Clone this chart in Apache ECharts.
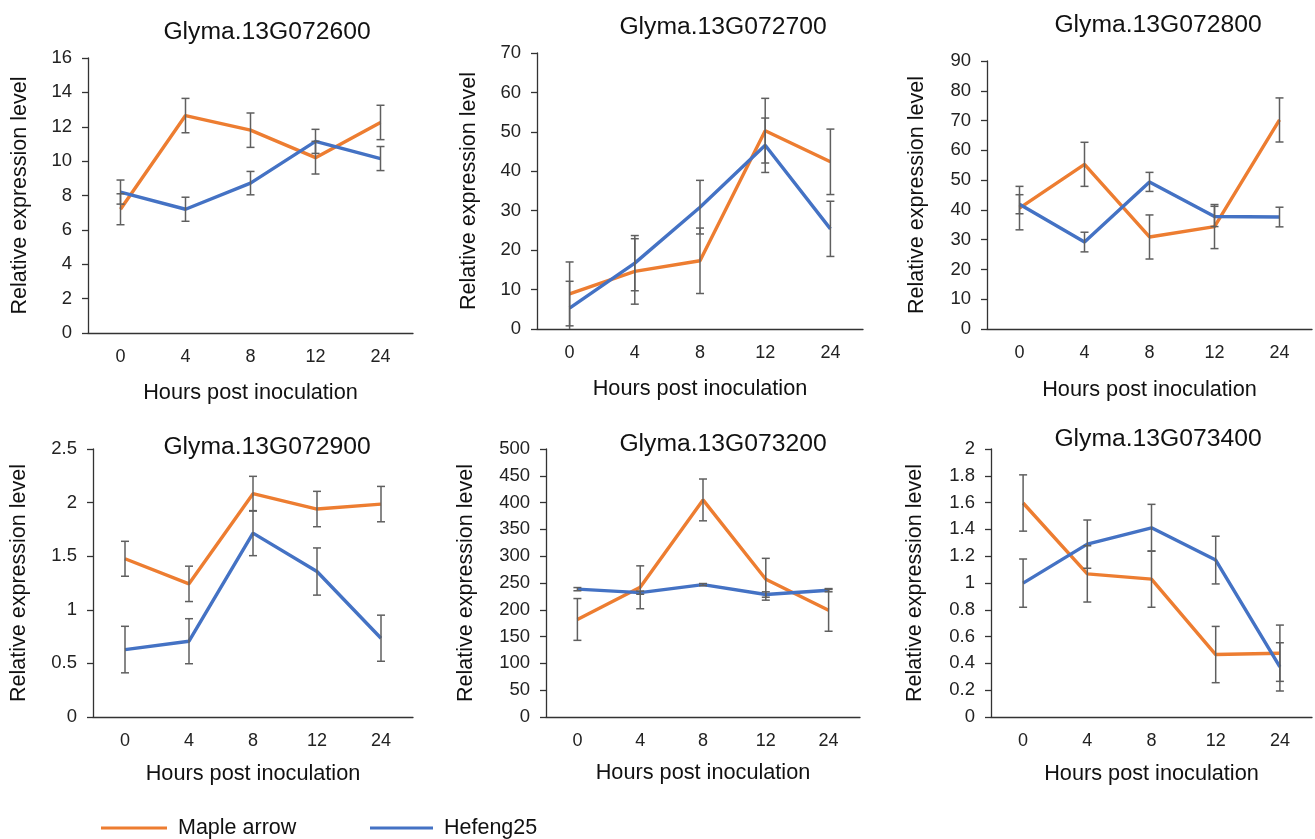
<!DOCTYPE html>
<html>
<head>
<meta charset="utf-8">
<script src="https://cdn.jsdelivr.net/npm/echarts@6/dist/echarts.min.js"></script>
<style>html,body{margin:0;padding:0;background:#fff}#c{width:1315px;height:839px}</style>
</head>
<body>
<div id="c"></div>
<script>
const categories = ['0', '4', '8', '12', '24'];
const titles = ['Glyma.13G072600', 'Glyma.13G072700', 'Glyma.13G072800', 'Glyma.13G072900', 'Glyma.13G073200', 'Glyma.13G073400'];
const yMax = [16, 70, 90, 2.5, 500, 2];
const yStep = [2, 10, 10, 0.5, 50, 0.2];

const maple1 = [7.2, 12.65, 11.8, 10.2, 12.25];
const mapleErr1 = [0.9, 1.0, 1.0, 0.95, 1.0];
const hefeng1 = [8.2, 7.2, 8.72, 11.15, 10.15];
const hefengErr1 = [0.7, 0.7, 0.68, 0.7, 0.7];

const maple2 = [8.9, 14.6, 17.3, 50.3, 42.4];
const mapleErr2 = [8.1, 8.3, 8.3, 8.2, 8.3];
const hefeng2 = [5.3, 16.7, 30.9, 46.6, 25.4];
const hefengErr2 = [6.8, 7.0, 6.8, 6.9, 7.0];

const maple3 = [40.6, 55.3, 30.9, 34.4, 70.2];
const mapleErr3 = [7.3, 7.4, 7.4, 7.4, 7.4];
const hefeng3 = [41.9, 29.2, 49.4, 37.8, 37.6];
const hefengErr3 = [3.2, 3.3, 3.2, 3.4, 3.3];

const maple4 = [1.476, 1.242, 2.083, 1.94, 1.986];
const mapleErr4 = [0.163, 0.165, 0.162, 0.165, 0.165];
const hefeng4 = [0.629, 0.707, 1.715, 1.357, 0.735];
const hefengErr4 = [0.217, 0.21, 0.21, 0.22, 0.215];

const maple5 = [182, 242, 405, 257, 199];
const mapleErr5 = [39, 40, 39, 39, 39];
const hefeng5 = [238.5, 232, 247, 228.5, 236.6];
const hefengErr5 = [3, 3, 2, 5, 3];

const maple6 = [1.597, 1.068, 1.029, 0.466, 0.476];
const mapleErr6 = [0.21, 0.21, 0.21, 0.21, 0.21];
const hefeng6 = [0.999, 1.29, 1.412, 1.171, 0.374];
const hefengErr6 = [0.18, 0.18, 0.175, 0.178, 0.18];

const mapleAll = [maple1, maple2, maple3, maple4, maple5, maple6];
const mapleErrAll = [mapleErr1, mapleErr2, mapleErr3, mapleErr4, mapleErr5, mapleErr6];
const hefengAll = [hefeng1, hefeng2, hefeng3, hefeng4, hefeng5, hefeng6];
const hefengErrAll = [hefengErr1, hefengErr2, hefengErr3, hefengErr4, hefengErr5, hefengErr6];

const FONT = '"Liberation Sans", Arial, Helvetica, sans-serif';
const ORANGE = '#ED7D31';
const BLUE = '#4472C4';
const ERRC = '#5f5f5f';

// layout: [left, top, width, height, titleCenterX, titleTop, yNameGap, xNameGap]
const layout = [
  [88, 58, 325, 275, 262, 15, 57, 49],
  [537, 53, 326, 276, 718, 10, 57, 49],
  [987, 61, 325, 268, 1153, 8, 59, 50],
  [93, 449, 320, 268, 262, 430, 63, 46],
  [546, 449, 314, 268, 718, 427, 69, 45],
  [991, 449, 321, 268, 1153, 422, 65, 46]
];

const grids = [], xAxes = [], yAxes = [], series = [], titleArr = [];

function errRender(params, api) {
  const cs = params.coordSys;
  const x = api.value(0);
  const lo = api.value(1), hi = api.value(2);
  const pTop = api.coord([x, hi]);
  const pBot = api.coord([x, lo]);
  const yMin = cs.y, yMaxPx = cs.y + cs.height;
  let y1 = pTop[1], y2 = pBot[1];
  const children = [];
  const cap = 4;
  const topIn = y1 >= yMin - 0.5, botIn = y2 <= yMaxPx + 0.5;
  y1 = Math.max(y1, yMin); y2 = Math.min(y2, yMaxPx);
  const cx = pTop[0];
  const st = { stroke: ERRC, lineWidth: 1.5 };
  children.push({ type: 'line', shape: { x1: cx, y1: y1, x2: cx, y2: y2 }, style: st });
  if (topIn) children.push({ type: 'line', shape: { x1: cx - cap, y1: y1, x2: cx + cap, y2: y1 }, style: st });
  if (botIn) children.push({ type: 'line', shape: { x1: cx - cap, y1: y2, x2: cx + cap, y2: y2 }, style: st });
  return { type: 'group', children: children };
}

for (let i = 0; i < 6; i++) {
  const L = layout[i];
  grids.push({ left: L[0], top: L[1], width: L[2], height: L[3], containLabel: false });
  titleArr.push({
    text: titles[i], left: L[4], top: L[5], textAlign: 'center',
    textStyle: { fontFamily: FONT, fontSize: 24.7, fontWeight: 'normal', color: '#111' }
  });
  xAxes.push({
    type: 'category', gridIndex: i, data: categories,
    name: 'Hours post inoculation', nameLocation: 'middle', nameGap: L[7],
    nameTextStyle: { fontFamily: FONT, fontSize: 21.7, color: '#111' },
    axisLine: { lineStyle: { color: '#333', width: 1.3 } },
    axisTick: { length: 5, lineStyle: { color: '#333', width: 1.3 } },
    axisLabel: { fontFamily: FONT, fontSize: 18, color: '#222', margin: 15 },
    splitLine: { show: false }
  });
  yAxes.push({
    type: 'value', gridIndex: i, min: 0, max: yMax[i], interval: yStep[i],
    name: 'Relative expression level', nameLocation: 'middle', nameGap: L[6],
    nameTextStyle: { fontFamily: FONT, fontSize: 21.5, color: '#111' },
    axisLine: { show: true, lineStyle: { color: '#333', width: 1.3 } },
    axisTick: { show: true, length: 6, lineStyle: { color: '#333', width: 1.3 } },
    axisLabel: { fontFamily: FONT, fontSize: 18.5, color: '#222', margin: 16 },
    splitLine: { show: false }
  });
  series.push({
    name: 'Maple arrow', type: 'line', xAxisIndex: i, yAxisIndex: i,
    data: mapleAll[i], symbol: 'none', lineStyle: { color: ORANGE, width: 3.4 },
    itemStyle: { color: ORANGE }, z: 2, animation: false
  });
  series.push({
    name: 'Hefeng25', type: 'line', xAxisIndex: i, yAxisIndex: i,
    data: hefengAll[i], symbol: 'none', lineStyle: { color: BLUE, width: 3.4 },
    itemStyle: { color: BLUE }, z: 3, animation: false
  });
  series.push({
    name: 'errM' + i, type: 'custom', xAxisIndex: i, yAxisIndex: i,
    data: mapleAll[i].map((v, k) => [k, v - mapleErrAll[i][k], v + mapleErrAll[i][k]]),
    renderItem: errRender, z: 4, silent: true, animation: false,
    encode: { x: 0, y: [1, 2] }
  });
  series.push({
    name: 'errH' + i, type: 'custom', xAxisIndex: i, yAxisIndex: i,
    data: hefengAll[i].map((v, k) => [k, v - hefengErrAll[i][k], v + hefengErrAll[i][k]]),
    renderItem: errRender, z: 4, silent: true, animation: false,
    encode: { x: 0, y: [1, 2] }
  });
}

const legendText = { fontFamily: FONT, fontSize: 21.5, color: '#111', padding: [0, 0, 0, 6] };
const option = {
  backgroundColor: '#fff',
  animation: false,
  title: titleArr,
  grid: grids,
  xAxis: xAxes,
  yAxis: yAxes,
  legend: [
    { data: [{ name: 'Maple arrow', icon: 'rect', itemStyle: { color: ORANGE } }], left: 96, top: 812, padding: 5, itemWidth: 66, itemHeight: 3, textStyle: legendText, selectedMode: false },
    { data: [{ name: 'Hefeng25', icon: 'rect', itemStyle: { color: BLUE } }], left: 365, top: 812, padding: 5, itemWidth: 63, itemHeight: 3, textStyle: legendText, selectedMode: false }
  ],
  series: series
};

const chart = echarts.init(document.getElementById('c'), null, { renderer: 'canvas' });
chart.setOption(option);
</script>
</body>
</html>
